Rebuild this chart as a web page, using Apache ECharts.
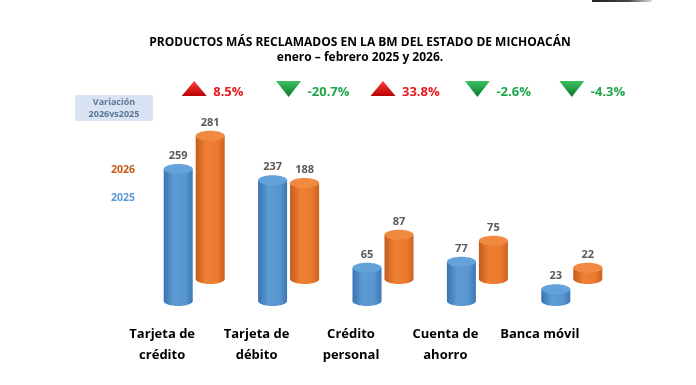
<!DOCTYPE html>
<html>
<head>
<meta charset="utf-8">
<script src="https://cdn.jsdelivr.net/npm/echarts@6/dist/echarts.min.js"></script>
<style>html,body{margin:0;padding:0;background:#fff;}#c{width:696px;height:385px;}</style>
</head>
<body>
<div id="c"></div>
<script>
var categories = ['Tarjeta de\ncrédito', 'Tarjeta de\ndébito', 'Crédito\npersonal', 'Cuenta de\nahorro', 'Banca móvil'];
var values2025 = [259, 237, 65, 77, 23];
var values2026 = [281, 188, 87, 75, 22];
var variation = ['8.5%', '-20.7%', '33.8%', '-2.6%', '-4.3%'];
var yMax = 300;

var chart = echarts.init(document.getElementById('c'), null, {renderer: 'canvas'});

function cylinder(stops, topColor, dx) {
  return function (params, api) {
    var i = api.value(0), v = api.value(1);
    var top = api.coord([i, v]);
    var base = api.coord([i, 0]);
    var cx = top[0] + dx, w = 29, rx = w / 2, ry = 5;
    var grad = new echarts.graphic.LinearGradient(0, 0, 1, 0, stops);
    return {
      type: 'group',
      children: [
        {type: 'ellipse', shape: {cx: cx, cy: base[1], rx: rx, ry: ry}, style: {fill: grad}},
        {type: 'rect', shape: {x: cx - rx, y: top[1], width: w, height: base[1] - top[1]}, style: {fill: grad}},
        {type: 'ellipse', shape: {cx: cx, cy: top[1], rx: rx, ry: ry}, style: {fill: topColor}},
        {type: 'text', style: {text: String(v), x: cx, y: top[1] - 13, textAlign: 'center', textVerticalAlign: 'middle',
          fill: '#595959', font: 'bold 11px "Open Sans"'}}
      ]
    };
  };
}

function variationItem(params, api) {
  var i = api.value(0);
  var cx = api.coord([i, 0])[0];
  var txt = variation[i];
  var up = txt.charAt(0) !== '-';
  var y = 89;
  var tri = up
    ? [[cx - 12.5, y + 7], [cx + 12.5, y + 7], [cx, y - 8]]
    : [[cx - 12.5, y - 8], [cx + 12.5, y - 8], [cx, y + 8]];
  var fillGrad = up
    ? new echarts.graphic.LinearGradient(0, 0, 0, 1, [{offset: 0, color: '#ff4040'}, {offset: 1, color: '#b80000'}])
    : new echarts.graphic.LinearGradient(0, 0, 0, 1, [{offset: 0, color: '#3cc060'}, {offset: 1, color: '#0b7a2e'}]);
  return {
    type: 'group',
    children: [
      {type: 'polygon', shape: {points: tri}, style: {fill: fillGrad}},
      {type: 'text', style: {text: txt, x: cx + 19, y: y + 3, textAlign: 'left', textVerticalAlign: 'middle',
        fill: up ? '#e8191e' : '#1fa64a', font: 'bold 13px "Open Sans"'}}
    ]
  };
}

var gridLeft = 147, gridWidth = 472;

var option = {
  animation: false,
  backgroundColor: '#ffffff',
  title: {
    text: 'PRODUCTOS MÁS RECLAMADOS EN LA BM DEL ESTADO DE MICHOACÁN\nenero – febrero 2025 y 2026.',
    left: 355, top: 30, textAlign: 'center',
    textStyle: {fontFamily: 'Open Sans', fontWeight: 'bold', fontSize: 12, lineHeight: 15, color: '#000'}
  },
  grid: [
    {left: gridLeft, width: gridWidth, top: 148, height: 153},
    {left: gridLeft, width: gridWidth, top: 126, height: 153},
    {left: gridLeft - 32, width: gridWidth, top: 148, height: 153}
  ],
  xAxis: [
    {type: 'category', gridIndex: 0, data: categories, show: false},
    {type: 'category', gridIndex: 1, data: categories, show: false},
    {type: 'category', gridIndex: 2, data: categories, axisLine: {show: false}, axisTick: {show: false},
      axisLabel: {interval: 0, margin: 23, fontFamily: 'Open Sans', fontWeight: 'bold', fontSize: 13, lineHeight: 21, color: '#000'}}
  ],
  yAxis: [
    {type: 'value', gridIndex: 0, min: 0, max: yMax, show: false},
    {type: 'value', gridIndex: 1, min: 0, max: yMax, show: false},
    {type: 'value', gridIndex: 2, min: 0, max: yMax, show: false}
  ],
  series: [
    {
      name: '2026', type: 'custom', xAxisIndex: 1, yAxisIndex: 1,
      renderItem: cylinder([{offset: 0, color: '#c45c1a'}, {offset: 0.35, color: '#ee7f33'}, {offset: 0.75, color: '#ec7a2d'}, {offset: 1, color: '#c9621f'}], '#f08a40', 16),
      data: values2026.map(function (v, i) { return [i, v]; })
    },
    {
      name: '2025', type: 'custom', xAxisIndex: 0, yAxisIndex: 0,
      renderItem: cylinder([{offset: 0, color: '#3a72b0'}, {offset: 0.35, color: '#5c9bd4'}, {offset: 0.75, color: '#5896d0'}, {offset: 1, color: '#3d76b4'}], '#64a2da', -16),
      data: values2025.map(function (v, i) { return [i, v]; })
    },
    {
      name: 'variacion', type: 'custom', xAxisIndex: 0, yAxisIndex: 0,
      renderItem: variationItem,
      data: variation.map(function (v, i) { return [i, 0]; })
    }
  ],
  graphic: [
    {type: 'rect', left: 592, top: 0, shape: {width: 60, height: 2},
      style: {fill: new echarts.graphic.LinearGradient(0, 0, 1, 0, [{offset: 0, color: '#222'}, {offset: 0.6, color: '#444'}, {offset: 1, color: '#ddd'}])}},
    {type: 'rect', left: 75, top: 95, shape: {width: 78, height: 26}, style: {fill: '#dae3f3'}},
    {type: 'text', style: {text: 'Variación\n2026vs2025', x: 114, y: 108, textAlign: 'center', textVerticalAlign: 'middle',
      fill: '#5a7796', font: 'bold 9px "Open Sans"', lineHeight: 12}},
    {type: 'text', style: {text: '2026', x: 123, y: 170, textAlign: 'center', textVerticalAlign: 'middle', fill: '#c55a11', font: 'bold 10.5px "Open Sans"'}},
    {type: 'text', style: {text: '2025', x: 123, y: 198, textAlign: 'center', textVerticalAlign: 'middle', fill: '#5b9bd5', font: 'bold 10.5px "Open Sans"'}}
  ]
};
chart.setOption(option);
</script>
</body>
</html>
